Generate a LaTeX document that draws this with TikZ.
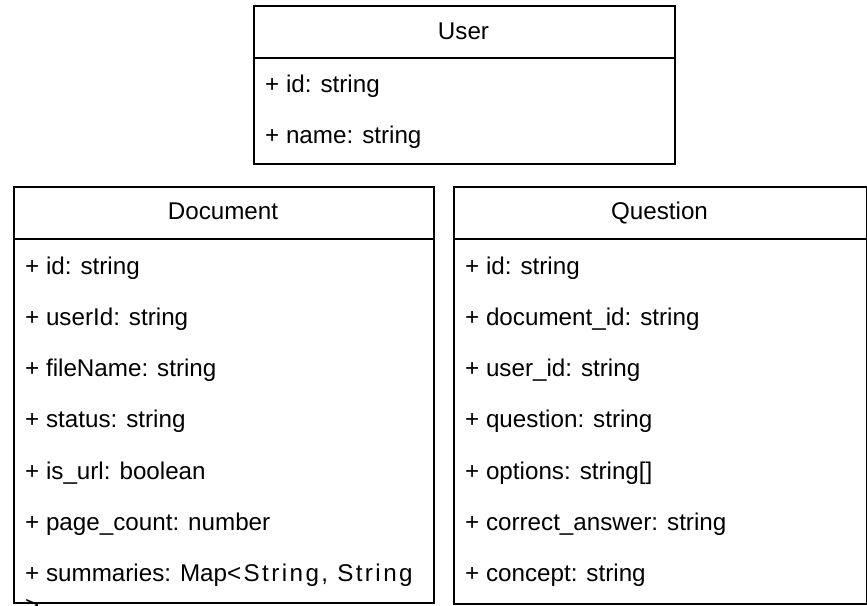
\documentclass[tikz,border=0pt]{standalone}
\usepackage{fontspec}
\setmainfont{Liberation Sans}
\begin{document}
\begin{tikzpicture}[x=1pt,y=-1pt,
  classbox/.style={draw=black, line width=1.5pt, rectangle, inner sep=0pt, anchor=north west},
  divider/.style={draw=black, line width=1.5pt},
  classtitle/.style={font=\fontsize{24.2}{29}\selectfont, anchor=base, inner sep=0pt},
  attr/.style={font=\fontsize{24.2}{29}\selectfont, anchor=base west, inner sep=0pt}]
\useasboundingbox (0,0) rectangle (867,605);
\clip (0,0) rectangle (867,605);

% ---------- User ----------
\node[classbox, minimum width=421pt, minimum height=158pt] (user) at (253,5) {};
\coordinate (userdl) at (253,58);
\coordinate (userdr) at (674,58);
\draw[divider] (userdl) -- (userdr);
\node[classtitle] (usertitle) at (463.5,39) {User};
\node[attr] (userid) at (265,92.5) {+ id: string};
\node[attr] (username) at (265,143) {+ name: string};

% ---------- Document ----------
\node[classbox, minimum width=420pt, minimum height=416pt] (doc) at (13,186) {};
\coordinate (docdl) at (13,239);
\coordinate (docdr) at (433,239);
\draw[divider] (docdl) -- (docdr);
\node[classtitle] (doctitle) at (223,219) {Document};
\node[attr] (docid)    at (25,274)    {+ id: string};
\node[attr] (docuser)  at (25,325.25) {+ userId: string};
\node[attr] (docfile)  at (25,376.5)  {+ fileName: string};
\node[attr] (docstat)  at (25,427.75) {+ status: string};
\node[attr] (docurl)   at (25,479)    {+ is\_url: boolean};
\node[attr] (docpages) at (25,530.25) {+ page\_count: number};
\node[attr] (docsum)   at (25,581.5)  {+ summaries: Map{\addfontfeatures{LetterSpace=10}<String, String}};
\node[attr] (docwrap)  at (25,613)    {>};

% ---------- Question ----------
\node[classbox, minimum width=413pt, minimum height=417pt] (quest) at (453,186) {};
\coordinate (questdl) at (453,239);
\coordinate (questdr) at (866,239);
\draw[divider] (questdl) -- (questdr);
\node[classtitle] (questtitle) at (659.5,219) {Question};
\node[attr] (qid)      at (465,274)    {+ id: string};
\node[attr] (qdoc)     at (465,325.25) {+ document\_id: string};
\node[attr] (quser)    at (465,376.5)  {+ user\_id: string};
\node[attr] (qtext)    at (465,427.75) {+ question: string};
\node[attr] (qopts)    at (465,479)    {+ options: string[]};
\node[attr] (qanswer)  at (465,530.25) {+ correct\_answer: string};
\node[attr] (qconcept) at (465,581.5)  {+ concept: string};
\end{tikzpicture}
\end{document}
